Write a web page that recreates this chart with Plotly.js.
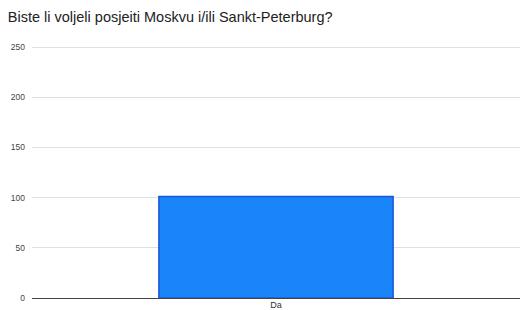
<!DOCTYPE html>
<html>
<head>
<meta charset="utf-8">
<script src="https://cdn.plot.ly/plotly-3.0.1.min.js"></script>
<style>html,body{margin:0;padding:0;background:#fff;}#chart{width:520px;height:310px;}</style>
</head>
<body>
<div id="chart"></div>
<script>
const categories = ["Da"];
const values = [101];
const yTicks = [0, 50, 100, 150, 200, 250];

Plotly.newPlot("chart", [{
  type: "bar",
  x: categories,
  y: values,
  marker: {color: "#1a85f8", line: {color: "#1c56d8", width: 1.5}},
  hoverinfo: "none"
}], {
  width: 520, height: 310,
  margin: {l: 32, r: 0, t: 44, b: 12, pad: 0},
  paper_bgcolor: "#fff", plot_bgcolor: "#fff",
  bargap: 0.52,
  title: {text: "Biste li voljeli posjeiti Moskvu i/ili Sankt-Peterburg?", x: 0.015, xanchor: "left", y: 0.945, yanchor: "middle",
          font: {family: "Liberation Sans, Arial, sans-serif", size: 14.5, color: "#222"}},
  xaxis: {showgrid: false, showline: false, zeroline: false, ticks: "", ticklen: 0, ticklabelstandoff: 0,
          tickfont: {family: "Liberation Sans, Arial, sans-serif", size: 9, color: "#333"}, automargin: false, fixedrange: true},
  yaxis: {range: [0, 253], tickvals: yTicks, ticktext: yTicks.map(String), showgrid: true, gridcolor: "#e0e0e0", gridwidth: 1,
          zeroline: true, zerolinecolor: "#444", zerolinewidth: 1, showline: false, ticks: "", ticklabelstandoff: 6,
          tickfont: {family: "Liberation Sans, Arial, sans-serif", size: 8.5, color: "#444"}, automargin: false, fixedrange: true},
  showlegend: false
}, {displayModeBar: false, staticPlot: true});
</script>
</body>
</html>
